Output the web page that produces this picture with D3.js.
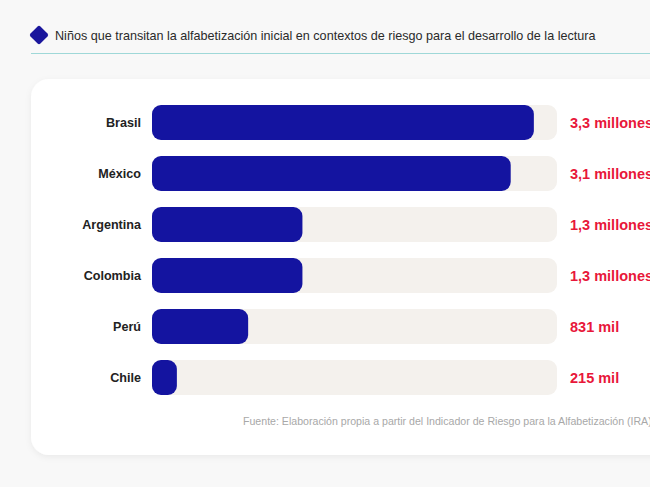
<!DOCTYPE html>
<html>
<head>
<meta charset="utf-8">
<script src="https://cdn.jsdelivr.net/npm/d3@7"></script>
<style>
  body { margin: 0; background: #f8f8f8; }
  svg { display: block; }
</style>
</head>
<body>
<div id="chart"></div>
<script>
// data
var countries = ["Brasil", "México", "Argentina", "Colombia", "Perú", "Chile"];
var values = [3.3, 3.1, 1.3, 1.3, 0.831, 0.215];   // millones de niños
var valueLabels = ["3,3 millones", "3,1 millones", "1,3 millones", "1,3 millones", "831 mil", "215 mil"];
var title = "Niños que transitan la alfabetización inicial en contextos de riesgo para el desarrollo de la lectura";
var source = "Fuente: Elaboración propia a partir del Indicador de Riesgo para la Alfabetización (IRA)";

var width = 650, height = 487;
var font = "Liberation Sans, Arial, sans-serif";

var svg = d3.select("#chart")
    .append("svg")
    .attr("width", width)
    .attr("height", height);

var defs = svg.append("defs");
var shadow = defs.append("filter").attr("id", "shadow")
    .attr("x", "-10%").attr("y", "-10%").attr("width", "120%").attr("height", "130%");
shadow.append("feDropShadow")
    .attr("dx", 0).attr("dy", 2).attr("stdDeviation", 3)
    .attr("flood-color", "#000").attr("flood-opacity", 0.06);

svg.append("rect")
    .attr("width", width).attr("height", height)
    .attr("fill", "#f8f8f8");

// header: diamond + title + rule
svg.append("rect")
    .attr("x", -7).attr("y", -7).attr("width", 14).attr("height", 14)
    .attr("rx", 2)
    .attr("transform", "translate(39,35) rotate(45)")
    .attr("fill", "#1a169c");

svg.append("text")
    .attr("x", 55).attr("y", 40)
    .attr("font-family", font)
    .attr("font-size", 12.6)
    .attr("fill", "#2a2a2a")
    .text(title);

svg.append("line")
    .attr("x1", 31).attr("x2", width)
    .attr("y1", 53.5).attr("y2", 53.5)
    .attr("stroke", "#9fd8d8").attr("stroke-width", 1);

// card
svg.append("rect")
    .attr("x", 31).attr("y", 79)
    .attr("width", 660).attr("height", 376)
    .attr("rx", 18)
    .attr("fill", "#fff")
    .attr("filter", "url(#shadow)");

// scales
var x = d3.scaleLinear()
    .domain([0, 3.5])
    .range([152, 557]);

var y = d3.scaleBand()
    .domain(countries)
    .range([97, 403])
    .paddingInner(0.314)
    .paddingOuter(0.157);

var g = svg.append("g");

// track
g.selectAll(".track")
    .data(countries)
    .enter()
    .append("rect")
    .attr("class", "track")
    .attr("x", x(0))
    .attr("y", function(d) { return y(d); })
    .attr("width", x(3.5) - x(0))
    .attr("height", y.bandwidth())
    .attr("rx", 9)
    .attr("fill", "#f4f1ed");

// bars
g.selectAll(".bar")
    .data(countries)
    .enter()
    .append("rect")
    .attr("class", "bar")
    .attr("x", x(0))
    .attr("y", function(d) { return y(d); })
    .attr("width", function(d, i) { return x(values[i]) - x(0); })
    .attr("height", y.bandwidth())
    .attr("rx", 9)
    .attr("fill", "#1414a0");

// country labels
g.selectAll(".name")
    .data(countries)
    .enter()
    .append("text")
    .attr("x", 141)
    .attr("y", function(d) { return y(d) + y.bandwidth() / 2; })
    .attr("dy", "0.35em")
    .attr("text-anchor", "end")
    .attr("font-family", font)
    .attr("font-weight", "bold")
    .attr("font-size", 12.6)
    .attr("fill", "#222")
    .text(function(d) { return d; });

// value labels
g.selectAll(".val")
    .data(countries)
    .enter()
    .append("text")
    .attr("x", 570)
    .attr("y", function(d) { return y(d) + y.bandwidth() / 2; })
    .attr("dy", "0.4em")
    .attr("font-family", font)
    .attr("font-weight", "bold")
    .attr("font-size", 14.5)
    .attr("fill", "#e8173a")
    .text(function(d, i) { return valueLabels[i]; });

// source
svg.append("text")
    .attr("x", 243).attr("y", 425)
    .attr("font-family", font)
    .attr("font-size", 10.6)
    .attr("fill", "#a8a8a8")
    .text(source);
</script>
</body>
</html>
